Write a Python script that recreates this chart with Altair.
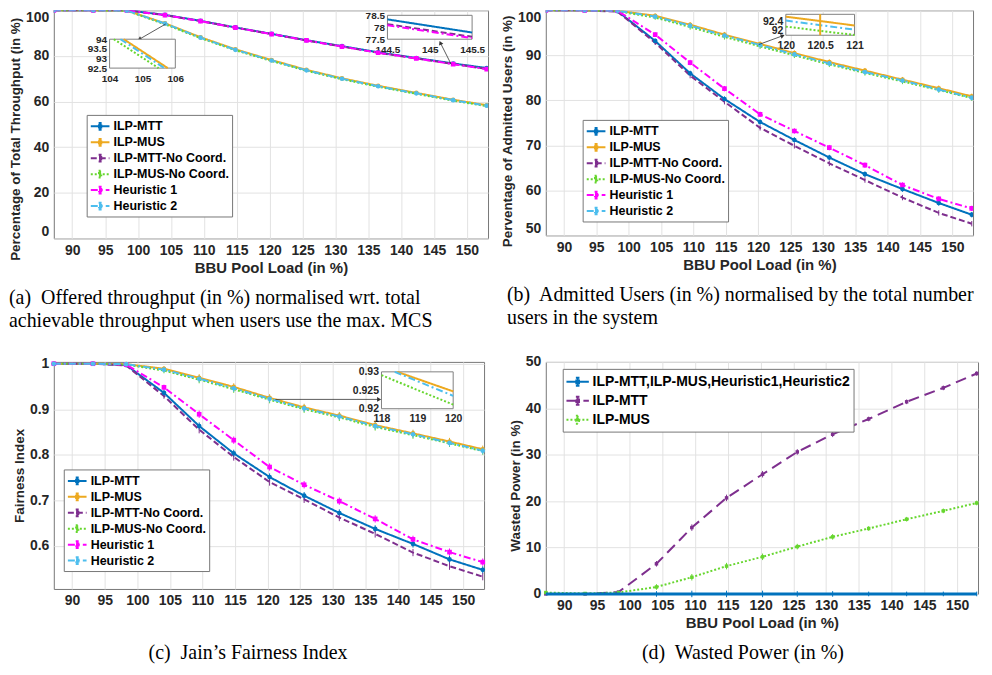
import altair as alt
import pandas as pd

# ---------------- data ----------------
x_load = [87.2, 93.2, 98.3, 104.1, 109.5, 114.8, 120.3, 125.6, 131.0, 136.5, 142.3, 147.9, 153.0]
x_ticks = [90, 95, 100, 105, 110, 115, 120, 125, 130, 135, 140, 145, 150]

series6 = ["ILP-MTT", "ILP-MUS", "ILP-MTT-No Coord.", "ILP-MUS-No Coord.", "Heuristic 1", "Heuristic 2"]
colors6 = ["#0072BD", "#EDA91F", "#7E2F8E", "#66D62E", "#FF00FF", "#4DBEEE"]
dashes6 = [[1, 0], [1, 0], [6, 3], [2, 2], [7, 3, 2, 3], [7, 3, 2, 3]]
markers6 = ["circle", "circle", None, None, "square", "circle"]

# (a) percentage of total throughput
a_mtt = [100, 100, 100, 98.0, 95.4, 92.5, 89.7, 86.9, 84.3, 81.6, 79.1, 76.7, 74.7]
a_mus = [100, 100, 99.9, 94.3, 88.2, 82.9, 78.2, 73.9, 70.2, 66.9, 63.8, 60.8, 58.4]
a_mtt_nc = [100, 100, 100, 97.9, 95.3, 92.4, 89.6, 86.8, 84.1, 81.4, 78.9, 76.5, 74.3]
a_mus_nc = [100, 100, 99.8, 93.9, 87.8, 82.5, 77.8, 73.5, 69.8, 66.5, 63.4, 60.4, 58.0]
a_heur1 = [100, 100, 100, 97.9, 95.3, 92.4, 89.6, 86.8, 84.1, 81.4, 78.9, 76.4, 74.2]
a_heur2 = [100, 100, 99.9, 94.2, 88.0, 82.7, 78.0, 73.7, 70.0, 66.7, 63.6, 60.6, 58.2]
err_a = [0, 0, 0.1, 0.3, 0.4, 0.4, 0.5, 0.5, 0.5, 0.5, 0.5, 0.5, 0.5]

# (b) admitted users
b_mtt = [100, 100, 99.8, 93.2, 86.0, 80.3, 75.2, 71.2, 67.3, 63.6, 60.3, 57.2, 54.6]
b_mus = [100, 100, 99.9, 98.8, 96.8, 94.6, 92.5, 90.5, 88.5, 86.6, 84.6, 82.7, 80.9]
b_mtt_nc = [100, 100, 99.7, 92.8, 85.5, 79.7, 73.9, 69.9, 66.0, 62.3, 58.4, 55.0, 52.6]
b_mus_nc = [100, 100, 99.8, 98.4, 96.3, 94.1, 92.0, 90.0, 88.0, 86.1, 84.2, 82.3, 80.5]
b_heur1 = [100, 100, 99.9, 94.6, 88.4, 82.6, 76.9, 73.2, 69.5, 65.6, 61.2, 58.1, 56.0]
b_heur2 = [100, 100, 99.9, 98.6, 96.6, 94.4, 92.3, 90.2, 88.2, 86.3, 84.4, 82.4, 80.6]
err_b = [0, 0, 0.2, 0.5, 0.6, 0.6, 0.6, 0.6, 0.6, 0.6, 0.6, 0.6, 0.6]

# (c) Jain's fairness index
c_mtt = [1.0, 1.0, 0.997, 0.936, 0.863, 0.803, 0.751, 0.710, 0.672, 0.637, 0.604, 0.570, 0.547]
c_mus = [1.0, 1.0, 0.999, 0.989, 0.969, 0.949, 0.925, 0.904, 0.886, 0.865, 0.847, 0.829, 0.812]
c_mtt_nc = [1.0, 1.0, 0.996, 0.929, 0.855, 0.795, 0.740, 0.702, 0.662, 0.626, 0.585, 0.555, 0.532]
c_mus_nc = [1.0, 1.0, 0.998, 0.985, 0.965, 0.944, 0.921, 0.900, 0.882, 0.861, 0.843, 0.825, 0.808]
c_heur1 = [1.0, 1.0, 0.998, 0.948, 0.889, 0.832, 0.773, 0.734, 0.698, 0.659, 0.614, 0.586, 0.564]
c_heur2 = [1.0, 1.0, 0.999, 0.987, 0.967, 0.946, 0.923, 0.902, 0.884, 0.863, 0.845, 0.826, 0.809]
err_c = [0, 0, 0.002, 0.006, 0.008, 0.008, 0.008, 0.008, 0.008, 0.008, 0.008, 0.008, 0.008]

# (d) wasted power
series_d = ["ILP-MTT,ILP-MUS,Heuristic1,Heuristic2", "ILP-MTT", "ILP-MUS"]
colors_d = ["#0072BD", "#7E2F8E", "#66D62E"]
dashes_d = [[1, 0], [11, 6], [2, 2]]
markers_d = [None, "square", "square"]
d_all = [0, 0, 0, 0, 0, 0, 0, 0, 0, 0, 0, 0, 0]
d_mtt = [0.0, 0.0, 0.4, 6.5, 14.3, 20.7, 25.8, 30.6, 34.4, 37.7, 41.4, 44.4, 47.5]
d_mus = [0.3, 0.1, 0.3, 1.5, 3.6, 6.0, 8.0, 10.2, 12.3, 14.1, 16.1, 17.9, 19.6]
err_d = [0.1, 0.1, 0.2, 0.6, 0.7, 0.7, 0.7, 0.6, 0.6, 0.5, 0.5, 0.5, 0.5]

# zoom insets: domains and curve end points
inset_a1 = {"xdom": [104, 106], "ydom": [92.5, 94], "xt": [104, 105, 106], "yt": [92.5, 93, 93.5, 94],
            "lines": [("ILP-MUS", [104.43, 105.77], [94, 92.5]),
                      ("Heuristic 2", [104.33, 105.67], [94, 92.5]),
                      ("ILP-MUS-No Coord.", [104.13, 105.49], [94, 92.5])]}
inset_a2 = {"xdom": [144.5, 145.5], "ydom": [77.5, 78.5], "xt": [144.5, 145, 145.5], "yt": [77.5, 78, 78.5],
            "lines": [("ILP-MTT", [144.5, 145.5], [78.33, 77.78]),
                      ("ILP-MTT-No Coord.", [144.5, 145.5], [78.13, 77.6]),
                      ("Heuristic 1", [144.5, 145.5], [78.08, 77.55])]}
inset_b = {"xdom": [120, 121], "ydom": [91.8, 92.7], "xt": [120, 120.5, 121], "yt": [92, 92.4],
           "lines": [("ILP-MUS", [120, 121], [92.6, 92.22]),
                     ("Heuristic 2", [120, 121], [92.43, 92.04]),
                     ("ILP-MUS-No Coord.", [120, 121], [92.17, 91.81]),
                     ("ILP-MUS", [120.5, 120.5], [91.8, 92.7])]}
inset_c = {"xdom": [118, 120], "ydom": [0.92, 0.93], "xt": [118, 119, 120], "yt": [0.92, 0.925, 0.93],
           "lines": [("ILP-MUS", [118.44, 120], [0.93, 0.9247]),
                     ("Heuristic 2", [118.37, 120], [0.93, 0.9235]),
                     ("ILP-MUS-No Coord.", [118.0, 120], [0.9291, 0.9211])]}

# arrows (start x, start y, end x, end y) in data units
arrows_a = [(104.2, 94.0, 100.3, 87.5), (147.6, 76.3, 146.0, 85.5)]
arrows_b = [(120.1, 92.4, 123.7, 94.3)]
arrows_c = [(121.2, 0.9216, 137.0, 0.9216)]

cap_a = ["(a)\u00a0 Offered throughput (in %) normalised wrt. total",
         "achievable throughput when users use the max. MCS"]
cap_b = ["(b)\u00a0 Admitted Users (in %) normalised by the total number", "users in the system"]
cap_c = "(c)\u00a0 Jain\u2019s Fairness Index"
cap_d = "(d)\u00a0 Wasted Power (in %)"

# ---------------- helpers ----------------
FONT = "Liberation Sans"
XDOM = [87.2, 153.2]
style6 = {n: (c, d) for n, c, d in zip(series6, colors6, dashes6)}
SYM = "M-1.25,0H1.25M0,-0.45V0.45M-0.2,-0.45H0.2M-0.2,0.45H0.2M-0.15,-0.15H0.15V0.15H-0.15Z"


def long_df(names, values, err):
    rows = []
    for n, vals in zip(names, values):
        for x, v, e in zip(x_load, vals, err):
            rows.append({"x": x, "y": v, "lo": v - e, "hi": v + e, "series": n})
    return pd.DataFrame(rows)


def make_legend(lx, ly, fs, size):
    return alt.Legend(title=None, orient="none", legendX=lx, legendY=ly, fillColor="white",
                      strokeColor="#777777", padding=3, labelFont=FONT, labelFontSize=fs,
                      labelFontWeight="bold", labelColor="black", labelLimit=400,
                      symbolType=SYM, symbolSize=size, symbolStrokeWidth=2,
                      symbolFillColor="transparent", rowPadding=0, labelOffset=5, symbolOffset=2)


def inset_layer(spec, xr, yr, h, yfmt, fs=10.5):
    xs = alt.Scale(domain=spec["xdom"], range=xr, nice=False, zero=False)
    ys = alt.Scale(domain=spec["ydom"], range=[yr[1], yr[0]], nice=False, zero=False)
    xax = alt.Axis(orient="bottom", offset=yr[1] - h, values=spec["xt"], format="~g", grid=False,
                   ticks=False, domain=False, labelFontSize=fs, labelPadding=5, labelFlush=False,
                   labelOverlap=False)
    yax = alt.Axis(orient="left", offset=-xr[0], values=spec["yt"], format=yfmt, grid=False,
                   ticks=False, domain=False, labelFontSize=fs, labelPadding=3, labelFlush=False,
                   labelOverlap=False)
    box_df = pd.DataFrame({"x0": [spec["xdom"][0]], "x1": [spec["xdom"][1]],
                           "y0": [spec["ydom"][0]], "y1": [spec["ydom"][1]]})
    box = alt.Chart(box_df).mark_rect(fill="white", stroke="#808080", strokeWidth=1).encode(
        x=alt.X("x0:Q", scale=xs, axis=xax, title=None), x2="x1:Q",
        y=alt.Y("y0:Q", scale=ys, axis=yax, title=None), y2="y1:Q")
    layers = [box]
    for name, lx, ly in spec["lines"]:
        col, dash = style6[name]
        ldf = pd.DataFrame({"x": lx, "y": ly})
        layers.append(alt.Chart(ldf).mark_line(color=col, strokeDash=dash, strokeWidth=2).encode(
            x=alt.X("x:Q", scale=xs, axis=xax, title=None),
            y=alt.Y("y:Q", scale=ys, axis=yax, title=None)))
    return alt.layer(*layers)


def build_panel(names, values, err, colors, dashes, markers, ydom, yvals, yfmt, ytitle, xtitle,
                w, h, legend, flush, title_y, insets, arrows, caption, cap_anchor, cap_offset, cap_dx,
                msize=22, thick=None, clip=False):
    df = long_df(names, values, err)
    xscale = alt.Scale(domain=XDOM, nice=False, zero=False)
    yscale = alt.Scale(domain=ydom, nice=False, zero=False)
    xaxis = alt.Axis(values=x_ticks, orient="bottom", grid=True, ticks=False, domain=False,
                     labelPadding=5, titlePadding=3, labelFlush=False)
    yaxis = alt.Axis(values=yvals, format=yfmt, orient="left", grid=True, ticks=False, domain=False,
                     labelPadding=5, titlePadding=3, labelFlush=flush, titleY=title_y)

    def X(f):
        return alt.X(f"{f}:Q", scale=xscale, axis=xaxis, title=xtitle)

    def Y(f):
        return alt.Y(f"{f}:Q", scale=yscale, axis=yaxis, title=ytitle)

    cscale = alt.Scale(domain=names, range=colors)
    dscale = alt.Scale(domain=names, range=dashes)
    base = alt.Chart(df)
    lines = base.mark_line(strokeWidth=2, clip=clip).encode(
        x=X("x"), y=Y("y"),
        color=alt.Color("series:N", scale=cscale, legend=legend),
        strokeDash=alt.StrokeDash("series:N", scale=dscale, legend=legend))
    errs = base.mark_rule(strokeWidth=1, clip=clip).encode(
        x=X("x"), y=Y("lo"), y2="hi:Q",
        color=alt.Color("series:N", scale=cscale, legend=None))
    mk_names = [n for n, m in zip(names, markers) if m]
    mk_shapes = [m for m in markers if m]
    pts = base.transform_filter(alt.FieldOneOfPredicate(field="series", oneOf=mk_names)).mark_point(
        filled=True, opacity=1, size=msize, clip=clip).encode(
        x=X("x"), y=Y("y"),
        color=alt.Color("series:N", scale=cscale, legend=None),
        shape=alt.Shape("series:N", scale=alt.Scale(domain=mk_names, range=mk_shapes), legend=None))
    layers = [lines, errs, pts]
    if thick:
        layers.append(base.transform_filter(alt.datum.series == thick[0]).mark_line(
            strokeWidth=3, color=thick[1]).encode(x=X("x"), y=Y("y")))
    for (x0, y0, x1, y1), ang in arrows:
        adf = pd.DataFrame({"x0": [x0], "y0": [y0], "x1": [x1], "y1": [y1]})
        layers.append(alt.Chart(adf).mark_rule(color="#333333", strokeWidth=0.8).encode(
            x=X("x0"), y=Y("y0"), x2="x1:Q", y2="y1:Q"))
        layers.append(alt.Chart(adf).mark_point(shape="triangle", filled=True, size=22,
                                                color="#333333", opacity=1, angle=ang).encode(
            x=X("x1"), y=Y("y1")))
    main = alt.layer(*layers)
    if insets:
        panel = alt.layer(main, *insets).resolve_scale(x="independent", y="independent")
    else:
        panel = main
    return panel.properties(
        width=w, height=h,
        title=alt.TitleParams(text=caption, orient="bottom", anchor=cap_anchor, frame="group",
                              offset=cap_offset, dx=cap_dx, lineHeight=23, font="Liberation Serif",
                              fontSize=20, fontWeight="normal", color="black"))


# ---------------- panels ----------------
WA, HA = 436, 229
WB, HB = 429, 226
WC, HC = 432, 228
WD, HD = 434, 233

pa = build_panel(series6, [a_mtt, a_mus, a_mtt_nc, a_mus_nc, a_heur1, a_heur2], err_a,
                 colors6, dashes6, markers6, [0, 100], [0, 20, 40, 60, 80, 100], "d",
                 "Percentage of Total Throughput (in %)", "BBU Pool Load (in %)", WA, HA,
                 make_legend(33, 105, 12.5, 225), True, 129,
                 [inset_layer(inset_a1, [56, 122], [29, 58], HA, "~g", fs=10),
                  inset_layer(inset_a2, [335, 420], [5, 29], HA, "~g", fs=10)],
                 list(zip(arrows_a, [240, 336])), cap_a, "start", 13, -45, clip=True)

pb = build_panel(series6, [b_mtt, b_mus, b_mtt_nc, b_mus_nc, b_heur1, b_heur2], err_b,
                 colors6, dashes6, markers6, [50, 100], [50, 60, 70, 80, 90, 100], "d",
                 "Perventage of Admitted Users (in %)", "BBU Pool Load (in %)", WB, HB,
                 make_legend(37, 110, 12.5, 225), True, 121,
                 [inset_layer(inset_b, [241, 310], [4, 25], HB, "~g")],
                 list(zip(arrows_b, [70])), cap_b, "start", 13, -39, clip=True)

pc = build_panel(series6, [c_mtt, c_mus, c_mtt_nc, c_mus_nc, c_heur1, c_heur2], err_c,
                 colors6, dashes6, markers6, [0.505, 1.004], [0.6, 0.7, 0.8, 0.9, 1.0], "~g",
                 "Fairness Index", None, WC, HC,
                 make_legend(10, 108, 12.5, 225), False, 114,
                 [inset_layer(inset_c, [329, 401], [10, 47], HC, "~g")],
                 list(zip(arrows_c, [90])), cap_c, "middle", 35, -21)

pd_ = build_panel(series_d, [d_all, d_mtt, d_mus], err_d,
                  colors_d, dashes_d, markers_d, [0, 50], [0, 10, 20, 30, 40, 50], "d",
                  "Wasted Power (in %)", "BBU Pool Load (in %)", WD, HD,
                  make_legend(17, 7, 14, 324), False, 124, [], [], cap_d, "middle", 12, -19,
                  msize=12, thick=(series_d[0], colors_d[0]))

chart = alt.concat(pa, pb, pc, pd_, columns=2, spacing={"row": 124, "column": 58},
                   bounds="flush", align="each").resolve_scale(
    color="independent", strokeDash="independent", shape="independent",
    x="independent", y="independent").properties(padding=0, background="white")

chart = chart.configure_view(stroke="#777777", strokeWidth=1).configure_axis(
    labelFont=FONT, labelFontSize=14, labelFontWeight="bold", labelColor="#262626",
    titleFont=FONT, titleFontSize=14, titleFontWeight="bold", titleColor="#262626",
    gridColor="#E2E2E2", gridOpacity=1, gridWidth=1).configure_axisX(
    titleFontSize=15).configure_axisY(titleFontSize=13.5)

chart.save("out.html", embed_options={"renderer": "svg", "actions": False})
